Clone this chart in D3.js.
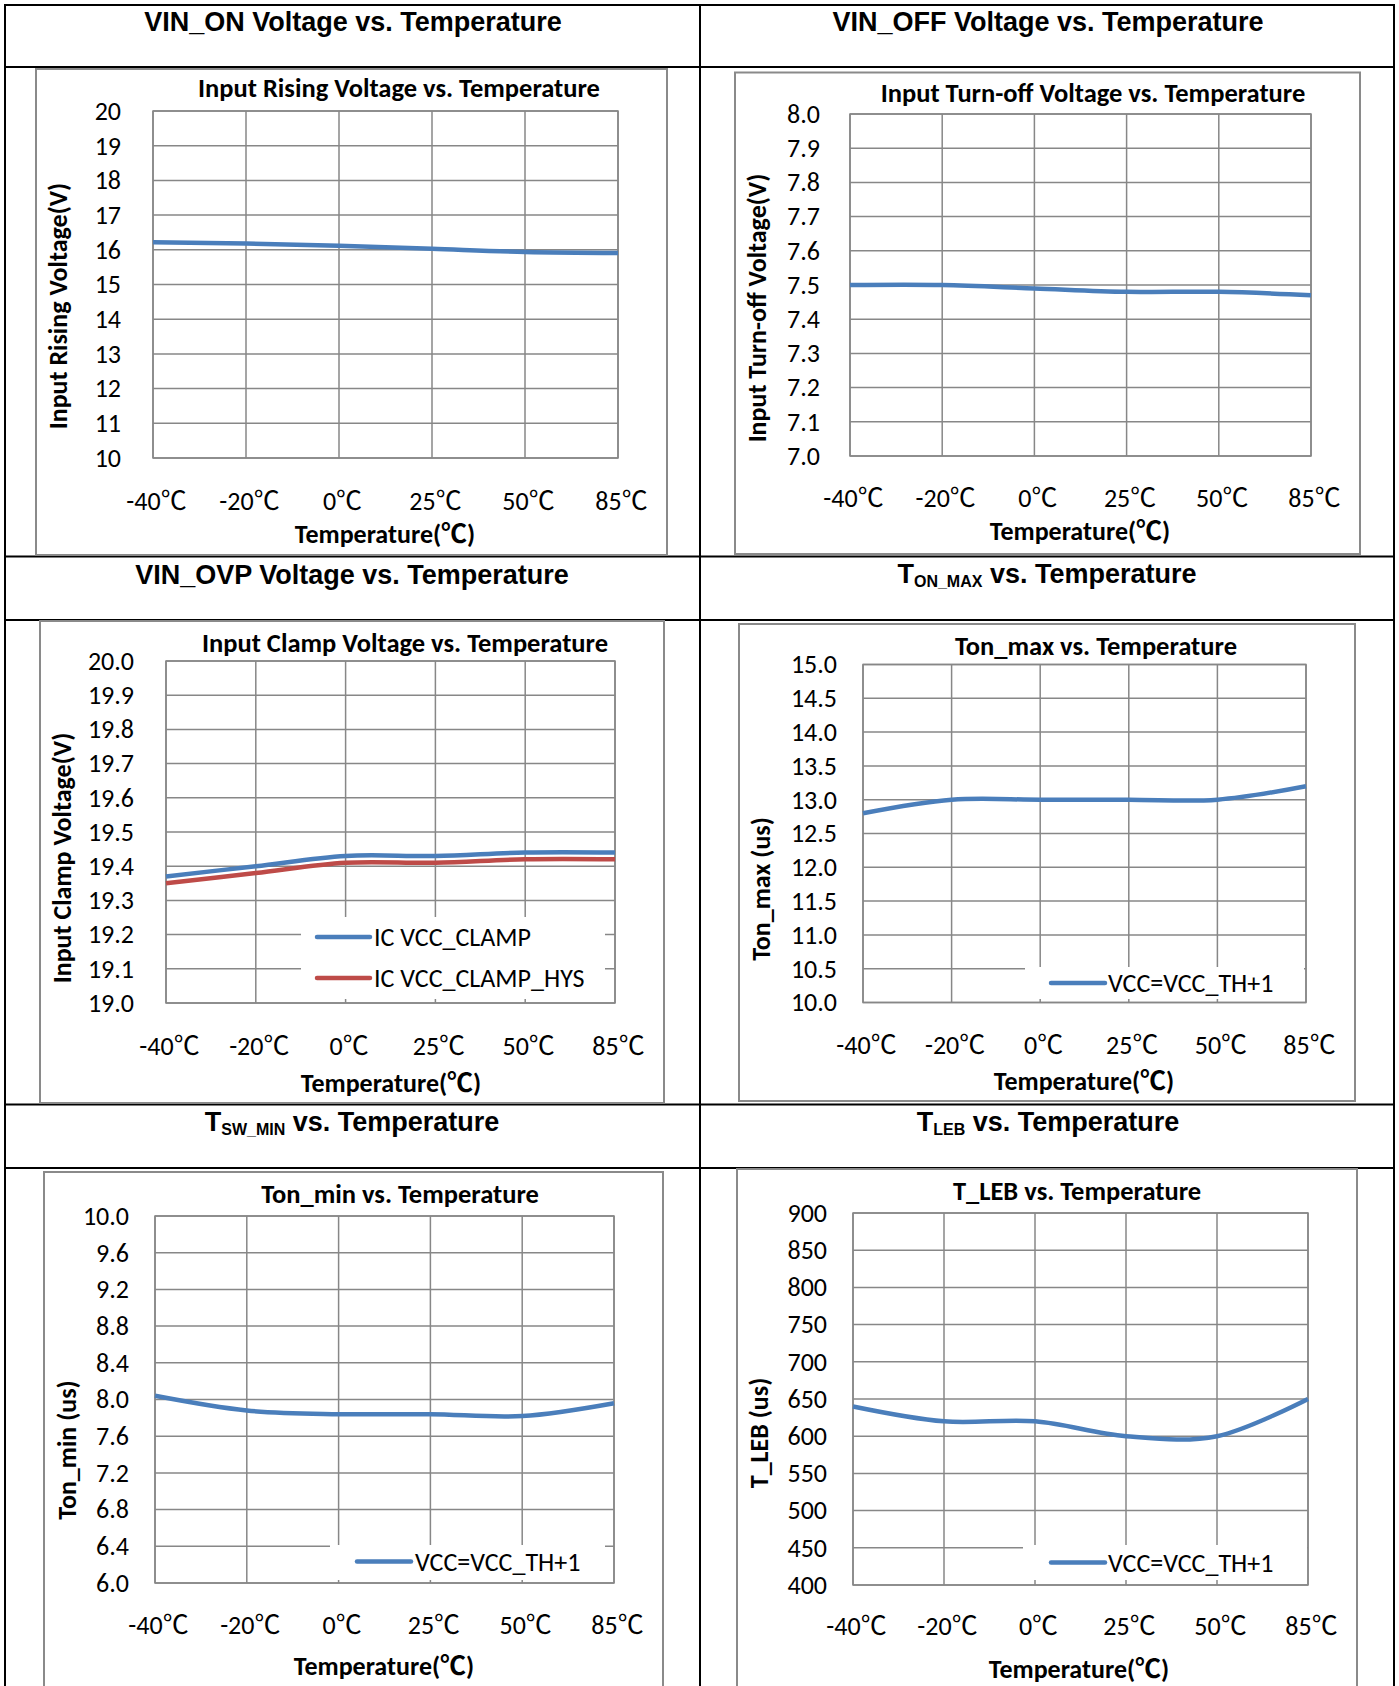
<!DOCTYPE html>
<html>
<head>
<meta charset="utf-8">
<script src="https://cdn.jsdelivr.net/npm/d3@7"></script>
<style>
  body { margin: 0; background: #fff; }
  svg { display: block; }
  .cal { font-family: Carlito, Lato, "Noto Sans CJK SC", sans-serif; }
  .arial { font-family: "Liberation Sans", Arial, sans-serif; }
  .cjk { font-family: "Noto Sans CJK SC", sans-serif; }
</style>
</head>
<body>
<div id="chart"></div>
<script>
// x categories (temperature)
var temps = ["-40℃", "-20℃", "0℃", "25℃", "50℃", "85℃"];

// series
var vinOn = [16.22, 16.18, 16.12, 16.03, 15.94, 15.91];
var vinOff = [7.50, 7.50, 7.49, 7.48, 7.48, 7.47];
var clampV = [19.37, 19.40, 19.43, 19.43, 19.44, 19.44];
var clampHys = [19.35, 19.38, 19.41, 19.41, 19.42, 19.42];
var tonMax = [12.80, 13.00, 13.00, 13.00, 13.00, 13.20];
var tonMin = [8.04, 7.88, 7.84, 7.84, 7.82, 7.96];
var tLeb = [640, 620, 620, 600, 600, 650];

// y tick labels
var ticksOn = [10, 11, 12, 13, 14, 15, 16, 17, 18, 19, 20];
var ticksOff = [7.0, 7.1, 7.2, 7.3, 7.4, 7.5, 7.6, 7.7, 7.8, 7.9, 8.0];
var ticksClamp = [19.0, 19.1, 19.2, 19.3, 19.4, 19.5, 19.6, 19.7, 19.8, 19.9, 20.0];
var ticksTonMax = [10.0, 10.5, 11.0, 11.5, 12.0, 12.5, 13.0, 13.5, 14.0, 14.5, 15.0];
var ticksTonMin = [6.0, 6.4, 6.8, 7.2, 7.6, 8.0, 8.4, 8.8, 9.2, 9.6, 10.0];
var ticksLeb = [400, 450, 500, 550, 600, 650, 700, 750, 800, 850, 900];

var blue = "#4A7EBB", red = "#BE4B48";
var gridColor = "#878787";
var fs = "26px";

var svgWidth = 1399, svgHeight = 1686;
var svg = d3.select("#chart").append("svg")
  .attr("width", svgWidth)
  .attr("height", svgHeight);

// table frame
var rowLines = [5, 67, 556.5, 620, 1104.5, 1168];
var colLines = [5, 700, 1394];
rowLines.forEach(function(y) {
  svg.append("line").attr("x1", 4).attr("x2", 1395).attr("y1", y).attr("y2", y)
    .attr("stroke", "#000").attr("stroke-width", 2);
});
colLines.forEach(function(x) {
  svg.append("line").attr("x1", x).attr("x2", x).attr("y1", 4).attr("y2", svgHeight)
    .attr("stroke", "#000").attr("stroke-width", 2);
});

// put the ℃ sign in a CJK font like the original
function celsius(sel, str) {
  var parts = str.split("℃");
  sel.text(null);
  parts.forEach(function(s, i) {
    if (s) sel.append("tspan").text(s);
    if (i < parts.length - 1) sel.append("tspan").attr("class", "cjk").text("℃");
  });
}

var panels = [
  { title: ["VIN_ON Voltage vs. Temperature"], tx: 353, ty: 31,
    box: [36, 69, 667, 555], chartTitle: "Input Rising Voltage vs. Temperature", ctx: 399, cty: 97,
    plot: [153, 111, 618, 458], ticks: ticksOn, fmt: d3.format("d"), tickRight: 121,
    xlabY: 510, xtX: 385, xtY: 543, yLabel: "Input Rising Voltage(V)", ylX: 58, ylY: 306,
    series: [{ name: null, values: vinOn, color: blue }] },
  { title: ["VIN_OFF Voltage vs. Temperature"], tx: 1048, ty: 31,
    box: [735, 72.5, 1360, 554], chartTitle: "Input Turn-off  Voltage vs. Temperature", ctx: 1093, cty: 102,
    plot: [850, 114, 1311, 456], ticks: ticksOff, fmt: d3.format(".1f"), tickRight: 820,
    xlabY: 507, xtX: 1080, xtY: 540, yLabel: "Input Turn-off  Voltage(V)", ylX: 757, ylY: 308,
    series: [{ name: null, values: vinOff, color: blue }] },
  { title: ["VIN_OVP Voltage vs. Temperature"], tx: 352, ty: 584,
    box: [40, 621, 664, 1103], chartTitle: "Input Clamp Voltage vs. Temperature", ctx: 405, cty: 652,
    plot: [166, 661, 615, 1003], ticks: ticksClamp, fmt: d3.format(".1f"), tickRight: 134,
    xlabY: 1055, xtX: 391, xtY: 1092, yLabel: "Input Clamp Voltage(V)", ylX: 62, ylY: 858,
    series: [{ name: "IC VCC_CLAMP", values: clampV, color: blue },
             { name: "IC VCC_CLAMP_HYS", values: clampHys, color: red }],
    legend: { box: [301, 917, 605, 999], y: [937, 978], x1: 317, x2: 370, tx: 374 } },
  { title: ["T", "ON_MAX", " vs. Temperature"], tx: 1047, ty: 583,
    box: [739, 624, 1355, 1101], chartTitle: "Ton_max vs. Temperature", ctx: 1096, cty: 655,
    plot: [863, 664.5, 1306, 1002.5], ticks: ticksTonMax, fmt: d3.format(".1f"), tickRight: 837,
    xlabY: 1054, xtX: 1084, xtY: 1090, yLabel: "Ton_max (us)", ylX: 761, ylY: 889,
    series: [{ name: "VCC=VCC_TH+1", values: tonMax, color: blue }],
    legend: { box: [1025, 967, 1304, 999], y: [983], x1: 1051, x2: 1105, tx: 1108 } },
  { title: ["T", "SW_MIN", " vs. Temperature"], tx: 352, ty: 1131,
    box: [44, 1172, 663, 1700], chartTitle: "Ton_min vs. Temperature", ctx: 400, cty: 1203,
    plot: [155, 1216, 614, 1583], ticks: ticksTonMin, fmt: d3.format(".1f"), tickRight: 129,
    xlabY: 1634, xtX: 384, xtY: 1675, yLabel: "Ton_min (us)", ylX: 67, ylY: 1450,
    series: [{ name: "VCC=VCC_TH+1", values: tonMin, color: blue }],
    legend: { box: [330, 1545, 605, 1580], y: [1561.5], x1: 357, x2: 411, tx: 415 } },
  { title: ["T", "LEB", " vs. Temperature"], tx: 1048, ty: 1131,
    box: [737, 1169, 1357, 1700], chartTitle: "T_LEB vs. Temperature", ctx: 1077, cty: 1200,
    plot: [853, 1213, 1308, 1585], ticks: ticksLeb, fmt: d3.format("d"), tickRight: 827,
    xlabY: 1635, xtX: 1079, xtY: 1678, yLabel: "T_LEB (us)", ylX: 759, ylY: 1433,
    series: [{ name: "VCC=VCC_TH+1", values: tLeb, color: blue }],
    legend: { box: [1023, 1545, 1307, 1580], y: [1562.5], x1: 1051, x2: 1105, tx: 1108 } }
];

panels.forEach(function(p) {
  var g = svg.append("g");

  // table row title (with optional subscript)
  var t = g.append("text").attr("class", "arial")
    .attr("x", p.tx).attr("y", p.ty)
    .attr("text-anchor", "middle")
    .style("font-size", "27px").style("font-weight", "bold");
  if (p.title.length === 1) {
    t.text(p.title[0]);
  } else {
    t.append("tspan").text(p.title[0]);
    t.append("tspan").attr("dy", 4).style("font-size", "16px").text(p.title[1]);
    t.append("tspan").attr("dy", -4).text(p.title[2]);
  }

  // chart area frame
  g.append("rect")
    .attr("x", p.box[0]).attr("y", p.box[1])
    .attr("width", p.box[2] - p.box[0]).attr("height", p.box[3] - p.box[1])
    .attr("fill", "#fff").attr("stroke", "#8a8a8a").attr("stroke-width", 2);

  g.append("text").attr("class", "cal")
    .attr("x", p.ctx).attr("y", p.cty)
    .attr("text-anchor", "middle")
    .style("font-size", "26.5px").style("font-weight", "bold")
    .text(p.chartTitle);

  var x = d3.scalePoint().domain(temps).range([p.plot[0], p.plot[2]]);
  var y = d3.scaleLinear()
    .domain([p.ticks[0], p.ticks[p.ticks.length - 1]])
    .range([p.plot[3], p.plot[1]]);

  // grid lines
  var grid = g.append("g");
  grid.selectAll(".hg").data(p.ticks).enter().append("line")
    .attr("x1", p.plot[0]).attr("x2", p.plot[2])
    .attr("y1", function(d) { return y(d); }).attr("y2", function(d) { return y(d); })
    .attr("stroke", gridColor).attr("stroke-width", 1.5);
  grid.selectAll(".vg").data(temps).enter().append("line")
    .attr("x1", function(d) { return x(d); }).attr("x2", function(d) { return x(d); })
    .attr("y1", p.plot[1]).attr("y2", p.plot[3])
    .attr("stroke", gridColor).attr("stroke-width", 1.5);

  // legend background sits over grid
  if (p.legend) {
    g.append("rect")
      .attr("x", p.legend.box[0]).attr("y", p.legend.box[1])
      .attr("width", p.legend.box[2] - p.legend.box[0])
      .attr("height", p.legend.box[3] - p.legend.box[1])
      .attr("fill", "#fff");
  }

  g.append("rect")
    .attr("x", p.plot[0]).attr("y", p.plot[1])
    .attr("width", p.plot[2] - p.plot[0]).attr("height", p.plot[3] - p.plot[1])
    .attr("fill", "none").attr("stroke", gridColor).attr("stroke-width", 1.5);

  // y axis labels
  var leftAxis = d3.axisLeft(y).tickValues(p.ticks).tickFormat(p.fmt).tickSize(0).tickPadding(0);
  var ya = g.append("g")
    .attr("transform", "translate(" + p.tickRight + ",0)")
    .call(leftAxis);
  ya.select(".domain").remove();
  ya.selectAll("text").attr("class", "cal")
    .style("font-size", fs).attr("fill", "#000").attr("x", 0);

  // x axis labels
  var bottomAxis = d3.axisBottom(x).tickSize(0).tickPadding(0);
  var xa = g.append("g")
    .attr("transform", "translate(3," + p.xlabY + ")")
    .call(bottomAxis);
  xa.select(".domain").remove();
  xa.selectAll("text").attr("class", "cal")
    .style("font-size", fs).attr("fill", "#000").attr("y", 0).attr("dy", 0)
    .each(function(d) { celsius(d3.select(this), d); });

  // axis titles
  var xt = g.append("text").attr("class", "cal")
    .attr("x", p.xtX).attr("y", p.xtY)
    .attr("text-anchor", "middle")
    .style("font-size", fs).style("font-weight", "bold");
  celsius(xt, "Temperature(℃)");

  g.append("text").attr("class", "cal")
    .attr("transform", "translate(" + p.ylX + "," + p.ylY + ") rotate(-90)")
    .attr("text-anchor", "middle")
    .attr("dy", "0.35em")
    .style("font-size", fs).style("font-weight", "bold")
    .text(p.yLabel);

  // smoothed series lines
  var line = d3.line()
    .x(function(d, i) { return x(temps[i]); })
    .y(function(d) { return y(d); })
    .curve(d3.curveCatmullRom.alpha(0));

  p.series.forEach(function(s) {
    g.append("path")
      .datum(s.values)
      .attr("d", line)
      .attr("fill", "none")
      .attr("stroke", s.color)
      .attr("stroke-width", 4.5);
  });

  // legend entries
  if (p.legend) {
    p.series.forEach(function(s, i) {
      var ly = p.legend.y[i];
      g.append("line")
        .attr("x1", p.legend.x1).attr("x2", p.legend.x2)
        .attr("y1", ly).attr("y2", ly)
        .attr("stroke", s.color).attr("stroke-width", 4.5)
        .attr("stroke-linecap", "round");
      g.append("text").attr("class", "cal")
        .attr("x", p.legend.tx).attr("y", ly)
        .attr("dy", "0.35em")
        .style("font-size", fs)
        .text(s.name);
    });
  }
});
</script>
</body>
</html>
